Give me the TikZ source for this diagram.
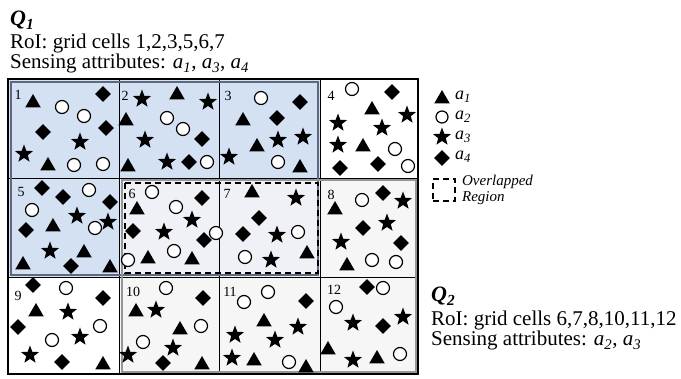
\documentclass[tikz,border=0pt]{standalone}
\usepackage{fontspec}
\setmainfont{Liberation Serif}
\usetikzlibrary{shapes.geometric,positioning}

\definecolor{roiblue}{RGB}{212,225,243}
\definecolor{roiover}{RGB}{239,241,247}
\definecolor{roigray}{RGB}{246,246,246}
\definecolor{qoneedge}{RGB}{95,105,125}
\definecolor{qtwoedge}{RGB}{150,150,150}

\begin{document}
\begin{tikzpicture}[x=1pt, y=-1pt,
    tri/.style={regular polygon, regular polygon sides=3, fill=black, inner sep=0pt, minimum size=18pt, yshift=-2pt},
    dot/.style={circle, draw=black, line width=1.2pt, fill=white, inner sep=0pt, minimum size=13pt},
    str/.style={star, star points=5, star point ratio=2.4, fill=black, inner sep=0pt, minimum size=19pt},
    dia/.style={diamond, fill=black, inner sep=0pt, minimum width=16pt, minimum height=16pt},
    num/.style={font=\fontsize{14}{14}\selectfont, inner sep=0pt},
    qlbl/.style={font=\fontsize{22}{22}\selectfont, inner sep=0pt, anchor=base west},
    info/.style={font=\fontsize{21}{20}\selectfont, inner sep=0pt, anchor=base west},
    lgd/.style={font=\fontsize{18}{18}\selectfont, inner sep=0pt, anchor=west}
]
\useasboundingbox (0,0) rectangle (681,379);

% regions
\fill[roiblue] (8,79) rectangle (320,277);
\fill[roiover] (119,178) rectangle (320,277);
\fill[roigray] (320,178) rectangle (418,374);
\fill[roigray] (119,277) rectangle (320,374);

% grid
\foreach \x in {119,219,320} \draw[line width=0.9pt] (\x,79) -- (\x,374);
\foreach \y in {178,277} \draw[line width=0.9pt] (8,\y) -- (418,\y);
\draw[line width=1.5pt] (8,79) rectangle (418,374);
\draw[qoneedge, line width=1.3pt] (11,82) rectangle (318,275);
\draw[qtwoedge, line width=1.3pt] (122,180) rectangle (416,372);
\draw[dashed, line width=1.8pt, dash pattern=on 6pt off 4pt] (125,183) rectangle (318,273);

% cell numbers
\foreach \n/\x/\y in {1/18/95, 2/125/96, 3/228/96, 4/331/96, 5/21/192, 6/132/194,
    7/227/194, 8/331/195, 9/18/296, 10/133/292, 11/230/292, 12/334/290}
  \node[num] (c\n) at (\x,\y) {\n};

% a1
\foreach \x/\y [count=\i] in {33/101, 48/164, 177/93, 126/119, 128/165, 243/119, 257/145,
    300/166, 372/108, 363/145, 53/225, 84/251, 23/263, 110/266, 137/208, 148/257, 192/258,
    252/191, 307/252, 335/208, 347/264, 36/310, 103/363, 136/310, 180/328, 202/363,
    264/320, 254/359, 306/366, 328/348, 377/357}
  \node[tri] (tri\i) at (\x,\y) {};

% a2
\foreach \x/\y [count=\i] in {62/107, 84/116, 74/165, 103/164, 167/118, 183/129, 207/162,
    261/98, 278/162, 352/89, 395/149, 408/166, 89/190, 32/210, 95/228, 152/192, 176/207,
    216/233, 128/260, 174/251, 298/232, 245/257, 362/200, 372/260, 396/262, 66/288,
    100/326, 52/340, 166/288, 201/326, 143/342, 244/302, 268/292, 289/362, 383/288,
    336/307, 400/354}
  \node[dot] (dot\i) at (\x,\y) {};

% a3
\foreach \x/\y [count=\i] in {80/142, 24/154, 142/99, 208/102, 145/140, 167/162, 278/140,
    303/137, 229/157, 407/115, 338/123, 382/128, 338/145, 77/216, 108/222, 50/251,
    192/220, 164/232, 296/198, 277/235, 271/260, 403/201, 387/223, 341/242, 68/312,
    80/337, 30/355, 156/310, 173/348, 128/355, 298/327, 235/335, 275/340, 232/358,
    353/323, 403/317, 353/360}
  \node[str] (str\i) at (\x,\y) {};

% a4
\foreach \x/\y [count=\i] in {103/94, 43/132, 106/128, 202/139, 189/162, 300/102, 277/118,
    392/92, 340/168, 378/164, 42/188, 63/197, 110/202, 26/230, 71/266, 202/198, 133/231,
    204/240, 259/218, 243/234, 383/193, 363/228, 401/243, 33/285, 103/298, 18/327,
    62/362, 203/298, 163/363, 306/301, 367/287, 383/326}
  \node[dia] (dia\i) at (\x,\y) {};

% legend
\node[tri] (lgtri) at (442,97) {};
\node[dot, minimum size=12pt] (lgdot) at (442,117) {};
\node[str] (lgstr) at (442,137) {};
\node[dia] (lgdia) at (442,158) {};
\node[draw, dashed, line width=1.8pt, dash pattern=on 6pt off 4pt, minimum size=22pt, inner sep=0pt] (lgovl) at (444,190) {};
\node[lgd] (lga1) at (455,97) {\textit{a}\textsubscript{\textit{1}}};
\node[lgd] (lga2) at (455,117) {\textit{a}\textsubscript{\textit{2}}};
\node[lgd] (lga3) at (455,137) {\textit{a}\textsubscript{\textit{3}}};
\node[lgd] (lga4) at (455,157) {\textit{a}\textsubscript{\textit{4}}};
\node[font=\fontsize{15}{16}\selectfont\itshape, align=left, inner sep=0pt, right=6pt of lgovl] (lgtxt) {Overlapped\\Region};

% queries
\node[qlbl] (q1) at (10,26) {\textbf{\textit{Q}}\textsubscript{\textbf{\textit{1}}}};
\node[info] (q1roi) at (10,49) {RoI: grid cells 1,2,3,5,6,7};
\node[info] (q1att) at (10,69) {Sensing attributes: \textit{a}\textsubscript{\textit{1}}, \textit{a}\textsubscript{\textit{3}}, \textit{a}\textsubscript{\textit{4}}};
\node[qlbl] (q2) at (431,302) {\textbf{\textit{Q}}\textsubscript{\textbf{\textit{2}}}};
\node[info] (q2roi) at (431,326) {RoI: grid cells 6,7,8,10,11,12};
\node[info] (q2att) at (431,346) {Sensing attributes: \textit{a}\textsubscript{\textit{2}}, \textit{a}\textsubscript{\textit{3}}};
\end{tikzpicture}
\end{document}
